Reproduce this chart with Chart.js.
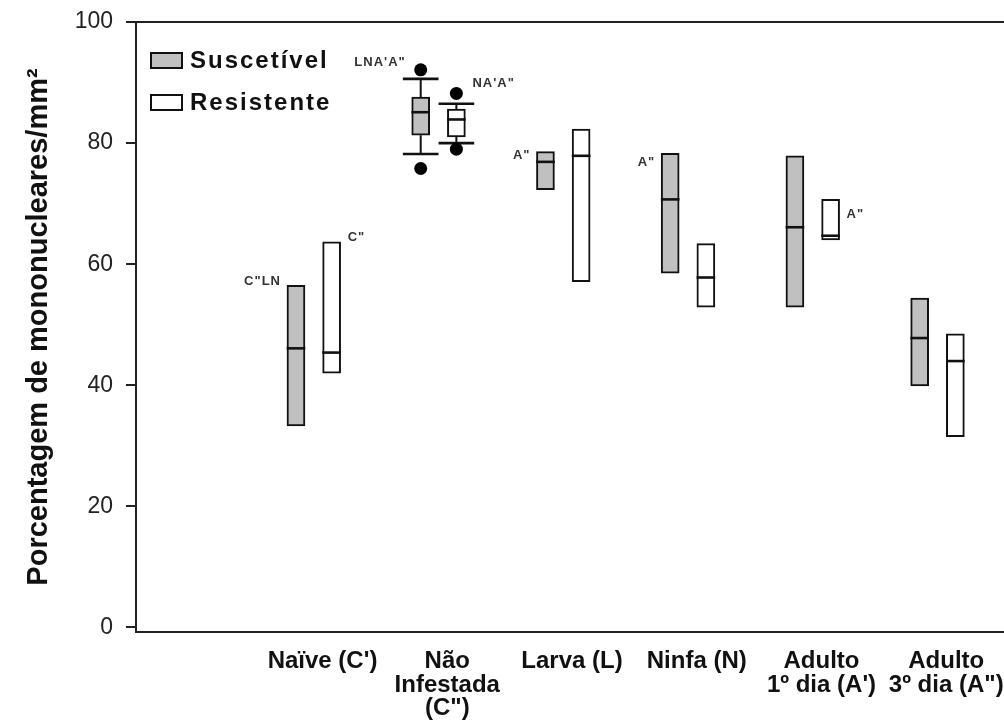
<!DOCTYPE html>
<html>
<head>
<meta charset="utf-8">
<script src="https://cdn.jsdelivr.net/npm/chart.js@4.4.1/dist/chart.umd.min.js"></script>
<style>
  body { margin: 0; background: #fff; overflow: hidden; }
  #wrap { width: 1004px; height: 728px; position: relative; }
</style>
</head>
<body>
<div id="wrap"><canvas id="boxCanvas"></canvas></div>
<script>
// categories (x axis)
const categories = ["Naïve (C')", ['Não', 'Infestada', '(C")'], 'Larva (L)', 'Ninfa (N)', ['Adulto', "1º dia (A')"], ['Adulto', '3º dia (A")']];
const yTicks = [0, 20, 40, 60, 80, 100];

// Suscetível
const susQ1 = [33.3, 81.3, 72.3, 58.5, 52.9, 39.9];
const susMed = [46.1, 85.1, 76.9, 70.7, 66.1, 47.8];
const susQ3 = [56.5, 87.6, 78.6, 78.3, 77.9, 54.4];
const susWhiskLo = [null, 78.2, null, null, null, null];
const susWhiskHi = [null, 90.6, null, null, null, null];
const susOutLo = [null, 75.8, null, null, null, null];
const susOutHi = [null, 92.1, null, null, null, null];

// Resistente
const resQ1 = [42.0, 81.0, 57.1, 52.9, 64.0, 31.5];
const resMed = [45.4, 83.9, 77.9, 57.8, 64.7, 44.0];
const resQ3 = [63.7, 85.6, 82.3, 63.4, 70.7, 48.5];
const resWhiskLo = [null, 80.0, null, null, null, null];
const resWhiskHi = [null, 86.5, null, null, null, null];
const resOutLo = [null, 79.0, null, null, null, null];
const resOutHi = [null, 88.2, null, null, null, null];

// significance letters
const annotText = ['C"LN', 'C"', "LNA'A\"", "NA'A\"", 'A"', 'A"', 'A"'];
const annotCat = [0, 0, 1, 1, 2, 3, 4];
const annotSeries = ['S', 'R', 'S', 'R', 'S', 'S', 'R'];
const annotLevel = [57.1, 64.5, 93.4, 89.9, 78.0, 76.8, 68.3];

const shift = 0.143;
const labelShift = 0.07;
const xS = i => i + 1 - shift;
const xR = i => i + 1 + shift;

function pts(vals, xf) {
  const out = [];
  vals.forEach((v, i) => { if (v !== null) out.push({ x: xf(i), y: v }); });
  return out;
}
// thin floating bar used as a horizontal stroke (median / whisker cap)
function strokes(vals, xf) {
  const out = [];
  vals.forEach((v, i) => { if (v !== null) out.push({ x: xf(i), y: [v - 0.16, v + 0.16] }); });
  return out;
}
function whiskers(lo, q1, q3, hi, xf) {
  const out = [];
  lo.forEach((v, i) => {
    if (v === null) return;
    out.push({ x: xf(i), y: v }, { x: xf(i), y: q1[i] }, { x: xf(i), y: null });
    out.push({ x: xf(i), y: q3[i] }, { x: xf(i), y: hi[i] }, { x: xf(i), y: null });
  });
  return out;
}

Chart.defaults.font.family = "'Liberation Sans', Arial, sans-serif";
Chart.defaults.color = '#222';

const frameAndText = {
  id: 'frameAndText',
  afterDatasetsDraw(chart) {
    const { ctx, chartArea: a, scales: { x, y } } = chart;
    ctx.save();
    // top frame line
    ctx.strokeStyle = '#222';
    ctx.lineWidth = 2;
    ctx.beginPath();
    ctx.moveTo(a.left, a.top);
    ctx.lineTo(a.right, a.top);
    ctx.stroke();

    // letters
    ctx.font = "bold 13px 'Liberation Sans', Arial, sans-serif";
    ctx.letterSpacing = '1px';
    ctx.fillStyle = '#333';
    ctx.textBaseline = 'middle';
    annotText.forEach((t, k) => {
      const i = annotCat[k];
      const isS = annotSeries[k] === 'S';
      const cx = x.getPixelForValue(isS ? xS(i) : xR(i));
      const py = y.getPixelForValue(annotLevel[k]);
      if (isS) {
        ctx.textAlign = 'right';
        ctx.fillText(t, cx - 9 - 6, py);
      } else {
        ctx.textAlign = 'left';
        ctx.fillText(t, cx + 9 + 7, py);
      }
    });

    // legend inside plot
    ctx.font = "bold 24px 'Liberation Sans', Arial, sans-serif";
    ctx.letterSpacing = '2px';
    ctx.textAlign = 'left';
    ctx.textBaseline = 'alphabetic';
    [0, 1].forEach(d => {
      const ds = chart.data.datasets[d];
      const top = a.top + 31 + d * 42;
      ctx.fillStyle = ds.backgroundColor;
      ctx.fillRect(a.left + 15, top, 31, 15);
      ctx.strokeStyle = '#111';
      ctx.lineWidth = 2;
      ctx.strokeRect(a.left + 15, top, 31, 15);
      ctx.fillStyle = '#111';
      ctx.fillText(ds.label, a.left + 54, top + 15);
    });
    ctx.restore();
  }
};

new Chart(document.getElementById('boxCanvas'), {
  type: 'bar',
  data: {
    datasets: [{
      label: 'Suscetível',
      data: susQ1.map((v, i) => ({ x: xS(i), y: [v, susQ3[i]] })),
      backgroundColor: '#c0c0c0',
      borderColor: '#111',
      borderWidth: 2,
      borderSkipped: false,
      barThickness: 18,
      grouped: false,
      order: 5
    }, {
      label: 'Resistente',
      data: resQ1.map((v, i) => ({ x: xR(i), y: [v, resQ3[i]] })),
      backgroundColor: '#ffffff',
      borderColor: '#111',
      borderWidth: 2,
      borderSkipped: false,
      barThickness: 18,
      grouped: false,
      order: 5
    }, {
      label: 'medians',
      data: strokes(susMed, xS).concat(strokes(resMed, xR)),
      backgroundColor: '#111',
      borderWidth: 0,
      barThickness: 18,
      grouped: false,
      order: 2
    }, {
      type: 'line',
      label: 'whiskers',
      data: whiskers(susWhiskLo, susQ1, susQ3, susWhiskHi, xS).concat(whiskers(resWhiskLo, resQ1, resQ3, resWhiskHi, xR)),
      borderColor: '#111',
      borderWidth: 2,
      pointRadius: 0,
      spanGaps: false,
      order: 3
    }, {
      label: 'caps',
      data: strokes(susWhiskLo, xS).concat(strokes(susWhiskHi, xS), strokes(resWhiskLo, xR), strokes(resWhiskHi, xR)),
      backgroundColor: '#111',
      borderWidth: 0,
      barThickness: 35,
      grouped: false,
      order: 2
    }, {
      type: 'scatter',
      label: 'outliers',
      data: pts(susOutLo, xS).concat(pts(susOutHi, xS), pts(resOutLo, xR), pts(resOutHi, xR)),
      pointStyle: 'circle',
      radius: 6.5,
      backgroundColor: '#000',
      borderColor: '#000',
      borderWidth: 0,
      order: 1
    }]
  },
  options: {
    responsive: true,
    maintainAspectRatio: false,
    animation: false,
    events: [],
    layout: { autoPadding: false, padding: { left: 0, right: 0, top: 22, bottom: 0 } },
    plugins: { legend: { display: false }, tooltip: { enabled: false } },
    scales: {
      x: {
        type: 'linear',
        offset: false,
        min: -0.4253,
        max: 6.533,
        grid: { display: false, drawTicks: false, offset: false },
        border: { display: true, color: '#222', width: 2 },
        afterBuildTicks: s => { s.ticks = categories.map((c, i) => ({ value: i + 1 + labelShift })); },
        afterFit: s => { s.height = 96; s.paddingLeft = 0; s.paddingRight = 0; },
        ticks: {
          autoSkip: false,
          maxRotation: 0,
          minRotation: 0,
          padding: 18,
          color: '#111',
          font: { size: 24, weight: 'bold', lineHeight: 0.98 },
          callback: (v, idx) => categories[idx]
        }
      },
      y: {
        min: -0.75,
        max: 100,
        afterBuildTicks: s => { s.ticks = yTicks.map(v => ({ value: v })); },
        afterFit: s => { s.width = 136; s.paddingTop = 0; s.paddingBottom = 0; },
        grid: { drawOnChartArea: false, drawTicks: true, tickLength: 10, color: '#222', lineWidth: 2 },
        border: { display: true, color: '#222', width: 2 },
        ticks: { padding: 13, color: '#222', font: { size: 23 } },
        title: {
          display: true,
          text: 'Porcentagem de mononucleares/mm²',
          color: '#111',
          font: { size: 29, weight: 'bold', lineHeight: 1.2 },
          padding: { top: 22, bottom: 0 }
        }
      }
    }
  },
  plugins: [frameAndText]
});
</script>
</body>
</html>
